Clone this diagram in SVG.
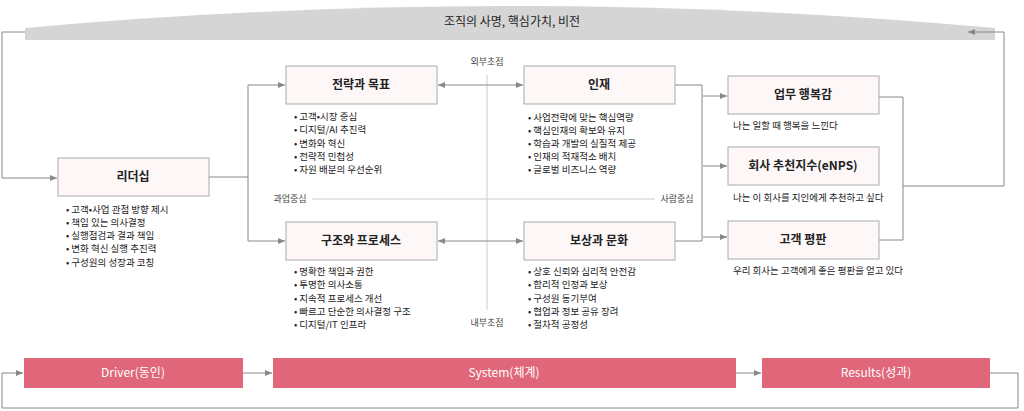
<svg xmlns="http://www.w3.org/2000/svg" width="1024" height="411" viewBox="0 0 1024 411">
<defs>
<marker id="a" markerWidth="8" markerHeight="8" refX="7" refY="4" orient="auto-start-reverse" markerUnits="userSpaceOnUse"><path d="M0,1 L7,4 L0,7 Z" fill="#888"/></marker>
<style>
text{font-family:"Noto Sans CJK KR","Noto Sans",sans-serif;fill:#222}
.box{fill:#fdf7f8;stroke:#aaa;stroke-width:1}
.t{font-size:12px;font-weight:bold;text-anchor:middle}
.b{font-size:9.5px}
.s{font-size:9px;fill:#444}
.bar{fill:#e06679}
.bt{font-size:12px;fill:#fff;text-anchor:middle}
.c{fill:none;stroke:#888;stroke-width:1}
.ax{fill:none;stroke:#ccc;stroke-width:1}
</style>
</defs>
<g id="banner"><path d="M25,28 Q512,-16 995,28 L995,40 L25,40 Z" fill="#d5d5d5"/><text x="512" y="26" font-size="12" text-anchor="middle">조직의 사명, 핵심가치, 비전</text></g>
<g id="axes">
<line class="ax" x1="487" y1="75" x2="487" y2="310"/><line class="ax" x1="312" y1="199" x2="655" y2="199"/>
<text class="s" x="487" y="65" text-anchor="middle">외부초점</text><text class="s" x="487" y="326" text-anchor="middle">내부초점</text>
<text class="s" x="290" y="202" text-anchor="middle">과업중심</text><text class="s" x="677" y="202" text-anchor="middle">사람중심</text>
</g>
<g id="connectors">
<path class="c" d="M25,32 H2 V178 H57" marker-end="url(#a)"/>
<path class="c" d="M209,177 H248 V85 H285" marker-end="url(#a)"/>
<path class="c" d="M248,177 V241 H285" marker-end="url(#a)"/>
<path class="c" d="M438,85 H523" marker-start="url(#a)" marker-end="url(#a)"/>
<path class="c" d="M438,241 H523" marker-start="url(#a)" marker-end="url(#a)"/>
<path class="c" d="M675,85 H702 V241 H675"/>
<path class="c" d="M703,96 H727" marker-end="url(#a)"/>
<path class="c" d="M703,166 H727" marker-end="url(#a)"/>
<path class="c" d="M703,237 H727" marker-end="url(#a)"/>
<path class="c" d="M879,97 H903 V240 H879"/>
<path class="c" d="M903,186 H1004 V32 H968" marker-end="url(#a)"/>
<path class="c" d="M243,373 H272" marker-end="url(#a)"/>
<path class="c" d="M736,373 H761" marker-end="url(#a)"/>
<path class="c" d="M990,373 H1018 V408 H2 V373 H23" marker-end="url(#a)"/>
</g>
<g id="leader"><rect class="box" x="58" y="158" width="151" height="38"/><text class="t" x="133" y="181">리더십</text>
<text class="b"><tspan x="66" y="213">• 고객•사업 관점 방향 제시</tspan><tspan x="66" y="226">• 책임 있는 의사결정</tspan><tspan x="66" y="239">• 실행점검과 결과 책임</tspan><tspan x="66" y="252">• 변화 혁신 실행 추진력</tspan><tspan x="66" y="266">• 구성원의 성장과 코칭</tspan></text></g>
<g id="strategy"><rect class="box" x="286" y="66" width="151" height="38"/><text class="t" x="361" y="89">전략과 목표</text>
<text class="b"><tspan x="294" y="120">• 고객•시장 중심</tspan><tspan x="294" y="133">• 디지털/AI 추진력</tspan><tspan x="294" y="147">• 변화와 혁신</tspan><tspan x="294" y="160">• 전략적 민첩성</tspan><tspan x="294" y="173">• 자원 배분의 우선순위</tspan></text></g>
<g id="structure"><rect class="box" x="286" y="222" width="151" height="38"/><text class="t" x="361" y="245">구조와 프로세스</text>
<text class="b"><tspan x="294" y="275">• 명확한 책임과 권한</tspan><tspan x="294" y="288">• 투명한 의사소통</tspan><tspan x="294" y="302">• 지속적 프로세스 개선</tspan><tspan x="294" y="315">• 빠르고 단순한 의사결정 구조</tspan><tspan x="294" y="328">• 디지털/IT 인프라</tspan></text></g>
<g id="talent"><rect class="box" x="524" y="66" width="151" height="38"/><text class="t" x="599" y="89">인재</text>
<text class="b"><tspan x="528" y="121">• 사업전략에 맞는 핵심역량</tspan><tspan x="528" y="134">• 핵심인재의 확보와 유지</tspan><tspan x="528" y="147">• 학습과 개발의 실질적 제공</tspan><tspan x="528" y="160">• 인재의 적재적소 배치</tspan><tspan x="528" y="173">• 글로벌 비즈니스 역량</tspan></text></g>
<g id="reward"><rect class="box" x="524" y="222" width="151" height="38"/><text class="t" x="599" y="245">보상과 문화</text>
<text class="b"><tspan x="528" y="275">• 상호 신뢰와 심리적 안전감</tspan><tspan x="528" y="288">• 합리적 인정과 보상</tspan><tspan x="528" y="302">• 구성원 동기부여</tspan><tspan x="528" y="315">• 협업과 정보 공유 장려</tspan><tspan x="528" y="328">• 절차적 공정성</tspan></text></g>
<g id="happy"><rect class="box" x="728" y="76" width="151" height="38"/><text class="t" x="803" y="99">업무 행복감</text><text class="b" x="733" y="129">나는 일할 때 행복을 느낀다</text></g>
<g id="enps"><rect class="box" x="728" y="147" width="151" height="38"/><text class="t" x="803" y="170">회사 추천지수(eNPS)</text><text class="b" x="733" y="201">나는 이 회사를 지인에게 추천하고 싶다</text></g>
<g id="rep"><rect class="box" x="728" y="221" width="151" height="38"/><text class="t" x="803" y="244">고객 평판</text><text class="b" x="733" y="274">우리 회사는 고객에게 좋은 평판을 얻고 있다</text></g>
<g id="driver"><rect class="bar" x="24" y="358" width="219" height="30"/><text class="bt" x="133" y="377">Driver(동인)</text></g>
<g id="system"><rect class="bar" x="273" y="358" width="463" height="30"/><text class="bt" x="504" y="377">System(체계)</text></g>
<g id="results"><rect class="bar" x="762" y="358" width="228" height="30"/><text class="bt" x="876" y="377">Results(성과)</text></g>
</svg>
